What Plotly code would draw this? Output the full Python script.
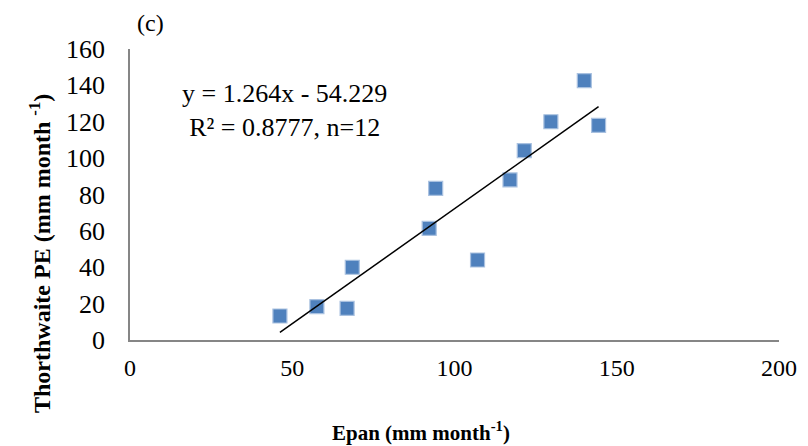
import plotly.graph_objects as go

# Data
epan = [46.2, 57.6, 66.9, 68.5, 92.2, 94.2, 107.1, 117.1, 121.5, 129.7, 140.0, 144.4]
thornthwaite_pe = [13.2, 18.3, 17.4, 40.0, 61.4, 83.4, 44.0, 88.0, 104.1, 120.0, 142.6, 118.0]

# Linear trendline coefficients (from the chart's equation)
slope = 1.264
intercept = -54.229
x_ticks = [0, 50, 100, 150, 200]
y_ticks = [0, 20, 40, 60, 80, 100, 120, 140, 160]

trend_x = [min(epan), max(epan)]
trend_y = [slope * v + intercept for v in trend_x]

FONT = "Liberation Serif, Times New Roman, serif"

# page body has an 8px margin -> figure origin at (8, 8)
OX, OY = 8, 8
W, H = 800, 438
L, T = 130 - OX, 49 - OY
PW, PH = 649, 291
R = W - L - PW
B = H - T - PH


def px(x):
    return (x - OX - L) / PW


def py(y):
    return (T + PH - (y - OY)) / PH


fig = go.Figure()
fig.add_trace(go.Scatter(
    x=epan, y=thornthwaite_pe, mode="markers",
    marker=dict(symbol="square", size=14, color="#4F81BD",
                line=dict(color="#A9C1E0", width=1.2)),
    showlegend=False, hoverinfo="x+y"))
fig.add_trace(go.Scatter(
    x=trend_x, y=trend_y, mode="lines",
    line=dict(color="black", width=1.5), showlegend=False, hoverinfo="skip"))

fig.update_layout(
    width=W, height=H,
    margin=dict(l=L, r=R, t=T, b=B),
    paper_bgcolor="white", plot_bgcolor="white",
    font=dict(family=FONT, size=22, color="black"),
    xaxis=dict(range=[0, 200], tickvals=x_ticks, showgrid=False, zeroline=False,
               showline=True, linecolor="#868686", linewidth=1.5, ticks="",
               ticklabelstandoff=5, tickfont=dict(size=24)),
    yaxis=dict(range=[0, 160], tickvals=y_ticks, showgrid=False, zeroline=False,
               showline=True, linecolor="#868686", linewidth=1.5, ticks="",
               ticklabelstandoff=18, tickfont=dict(size=26)),
    annotations=[
        dict(text="y = 1.264x - 54.229<br>R² = 0.8777, n=12", xref="paper", yref="paper",
             x=px(284), y=py(110), showarrow=False,
             font=dict(size=26), align="center", xanchor="center", yanchor="middle"),
        dict(text="(c)", xref="paper", yref="paper", x=px(150),
             y=py(23), showarrow=False, font=dict(size=24),
             xanchor="center", yanchor="middle"),
        dict(text="<b>Thorthwaite PE (mm month <sup>-1</sup>)</b>", xref="paper", yref="paper",
             x=px(40), y=py(254), showarrow=False, textangle=-90,
             font=dict(size=24), xanchor="center", yanchor="middle"),
        dict(text="<b>Epan (mm month<sup>-1</sup>)</b>", xref="paper", yref="paper",
             x=px(421), y=py(431), showarrow=False,
             font=dict(size=21), xanchor="center", yanchor="middle"),
    ],
)

fig.write_html("out.html")
